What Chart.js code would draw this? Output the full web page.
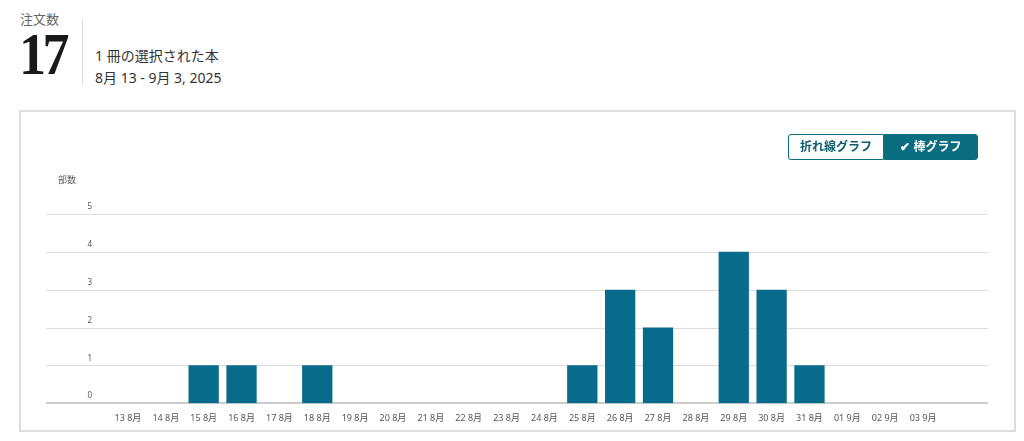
<!DOCTYPE html>
<html>
<head>
<meta charset="utf-8">
<script src="https://cdn.jsdelivr.net/npm/chart.js@4"></script>
<style>
  body { margin: 0; background: #fff; font-family: 'Noto Sans', 'Noto Sans CJK JP', sans-serif; width: 1024px; height: 441px; overflow: hidden; position: relative; }
  .lbl { position: absolute; left: 20px; top: 9px; font-size: 13px; color: #666; }
  .big { position: absolute; left: 19px; top: 20px; font-family: 'Liberation Serif', serif; font-weight: bold; font-size: 60px; color: #1a1a1a; letter-spacing: -4px; transform: scaleX(0.9); transform-origin: left; }
  .divider { position: absolute; left: 82px; top: 18px; width: 1px; height: 67px; background: #ddd; }
  .sub1 { position: absolute; left: 95px; top: 45px; font-size: 14px; color: #333; }
  .sub2 { position: absolute; left: 95px; top: 67px; font-size: 14px; color: #333; }
  .card { position: absolute; left: 19px; top: 110px; width: 993px; height: 318px; border: 2px solid #ddd; }
  .btns { position: absolute; left: 788px; top: 134px; display: flex; }
  .btn { box-sizing: border-box; height: 26px; line-height: 24px; font-size: 12px; font-weight: bold; border: 1px solid #0b6e80; text-align: center; white-space: nowrap; }
  .b1 { color: #0b5e6e; background: #fff; border-radius: 3px 0 0 3px; width: 96px; }
  .b2 { color: #fff; background: #0b6e80; border-radius: 0 3px 3px 0; width: 94px; }
  .ytitle { position: absolute; left: 58px; top: 173px; font-size: 9px; color: #555; }
  #wrap { position: absolute; left: 20px; top: 112px; width: 992px; height: 320px; }
</style>
</head>
<body>
<div class="lbl">注文数</div>
<div class="big">17</div>
<div class="divider"></div>
<div class="sub1">1 冊の選択された本</div>
<div class="sub2">8月 13 - 9月 3, 2025</div>
<div class="card"></div>
<div id="wrap"><canvas id="mycanvas"></canvas></div>
<div class="btns"><div class="btn b1">折れ線グラフ</div><div class="btn b2">✔ 棒グラフ</div></div>
<div class="ytitle">部数</div>
<script>
var days = ['13 8月','14 8月','15 8月','16 8月','17 8月','18 8月','19 8月','20 8月','21 8月','22 8月','23 8月','24 8月','25 8月','26 8月','27 8月','28 8月','29 8月','30 8月','31 8月','01 9月','02 9月','03 9月'];
var units = [0,0,1,1,0,1,0,0,0,0,0,0,1,3,2,0,4,3,1,0,0,0];
var yTicks = [0,1,2,3,4,5];

// horizontal lines run wider than the bar area
var gridLines = {
	id: 'gridLines',
	beforeDatasetsDraw: function(chart) {
		var ctx = chart.ctx;
		var y = chart.scales.y;
		ctx.save();
		for (var i = 0; i < yTicks.length; i++) {
			var py = Math.round(y.getPixelForValue(yTicks[i]));
			ctx.beginPath();
			if (yTicks[i] === 0) {
				ctx.strokeStyle = '#cccccc';
				ctx.lineWidth = 2;
			} else {
				ctx.strokeStyle = '#dddddd';
				ctx.lineWidth = 1;
				py += 0.5;
			}
			ctx.moveTo(26, py);
			ctx.lineTo(968, py);
			ctx.stroke();
		}
		ctx.restore();
	}
};

var chartdata = {
	labels: days,
	datasets: [{
		label: '部数',
		backgroundColor: '#086b8c',
		data: units,
		barPercentage: 0.8,
		categoryPercentage: 1.0
	}]
};

var ctx = document.getElementById('mycanvas');
new Chart(ctx, {
	type: 'bar',
	data: chartdata,
	plugins: [gridLines],
	options: {
		responsive: true,
		maintainAspectRatio: false,
		animation: false,
		layout: { padding: { top: 102, right: 70, left: 0, bottom: 6 } },
		plugins: { legend: { display: false }, tooltip: { enabled: false } },
		scales: {
			x: {
				grid: { display: false },
				border: { display: false },
				ticks: { color: '#555', font: { size: 9, family: "'Noto Sans', 'Noto Sans CJK JP'" }, maxRotation: 0, autoSkip: false, padding: 2 }
			},
			y: {
				min: 0, max: 5,
				afterFit: function(scale) { scale.width = 89; },
				grid: { display: false },
				border: { display: false },
				ticks: { stepSize: 1, color: '#555', font: { size: 8, family: "'Noto Sans'" }, padding: 9, labelOffset: -7 }
			}
		}
	}
});
</script>
</body>
</html>
